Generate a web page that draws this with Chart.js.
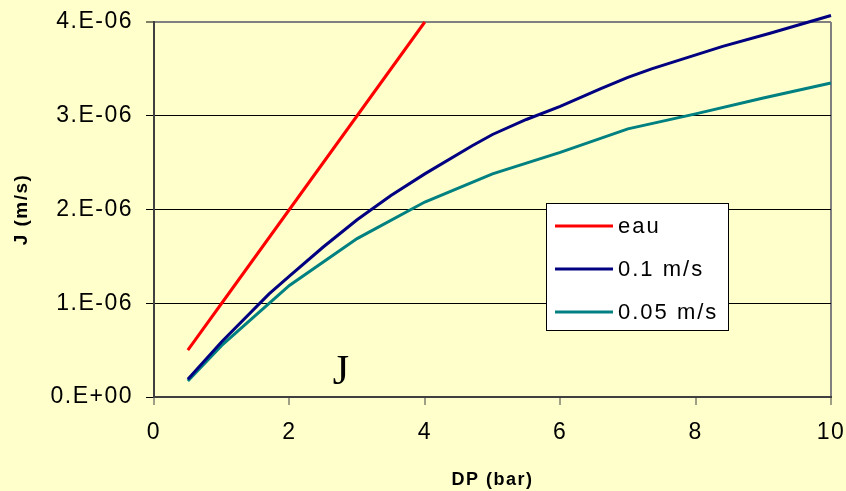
<!DOCTYPE html>
<html>
<head>
<meta charset="utf-8">
<script src="https://cdn.jsdelivr.net/npm/chart.js@4/dist/chart.umd.min.js"></script>
<style>
  html, body { margin: 0; padding: 0; background: #FFFFCC; }
  #wrap { width: 846px; height: 491px; position: relative; }
</style>
</head>
<body>
<div id="wrap"><canvas id="fluxChart"></canvas></div>
<script>
// DP (bar) vs J (m/s)
const seriesNames = ['eau', '0.1 m/s', '0.05 m/s'];
const seriesColors = ['#FF0000', '#000080', '#008080'];

const dpEau = [0.5, 1, 2, 3, 4];
const jEau = [0.5e-6, 1.0e-6, 2.0e-6, 3.0e-6, 4.0e-6];

const dpV01 = [0.5, 1, 1.7, 2, 2.5, 3, 3.5, 4, 4.7, 5, 5.5, 6, 6.6, 7, 7.35, 7.7, 8.4, 9.1, 10];
const jV01 = [0.19e-6, 0.59e-6, 1.1e-6, 1.29e-6, 1.6e-6, 1.89e-6, 2.15e-6, 2.38e-6, 2.68e-6, 2.8e-6,
              2.96e-6, 3.1e-6, 3.29e-6, 3.41e-6, 3.5e-6, 3.58e-6, 3.74e-6, 3.88e-6, 4.07e-6];

const dpV005 = [0.5, 1, 2, 3, 4, 5, 6, 7, 8, 9, 10];
const jV005 = [0.17e-6, 0.55e-6, 1.19e-6, 1.69e-6, 2.08e-6, 2.38e-6, 2.61e-6, 2.86e-6, 3.02e-6, 3.19e-6, 3.35e-6];

const xTicks = [0, 2, 4, 6, 8, 10];
const yTickLabels = ['0.E+00', '1.E-06', '2.E-06', '3.E-06', '4.E-06'];

const pts = (xs, ys) => xs.map((x, i) => ({x: x, y: ys[i]}));
const FONT = "'Liberation Sans', Arial, sans-serif";

// page background + letter spacing like the original
const bgPlugin = {
    id: 'bg',
    beforeDraw(chart) {
        const ctx = chart.ctx;
        ctx.save();
        ctx.fillStyle = '#FFFFCC';
        ctx.fillRect(0, 0, chart.width, chart.height);
        ctx.restore();
        ctx.letterSpacing = '1.5px';
    }
};

// legend box inside the plot + the "J" mark
const boxLegend = {
    id: 'boxLegend',
    afterDraw(chart) {
        const ctx = chart.ctx;
        ctx.save();
        ctx.letterSpacing = '2px';
        ctx.fillStyle = '#FFFFFF';
        ctx.strokeStyle = '#000000';
        ctx.lineWidth = 1;
        ctx.fillRect(546, 203, 182, 127);
        ctx.strokeRect(546.5, 203.5, 182, 127);
        ctx.font = '22px ' + FONT;
        ctx.textBaseline = 'middle';
        chart.data.datasets.forEach((ds, i) => {
            const y = 226 + i * 43;
            ctx.strokeStyle = ds.borderColor;
            ctx.lineWidth = 3;
            ctx.beginPath();
            ctx.moveTo(555, y);
            ctx.lineTo(613, y);
            ctx.stroke();
            ctx.fillStyle = '#000';
            ctx.fillText(ds.label, 618, y + 1);
        });
        ctx.font = "42px 'Liberation Serif', 'Times New Roman', serif";
        ctx.textAlign = 'center';
        ctx.textBaseline = 'alphabetic';
        ctx.letterSpacing = '0px';
        ctx.fillText('J', 341, 384);
        ctx.restore();
    }
};

const chart = new Chart(document.getElementById('fluxChart').getContext('2d'), {
    type: 'line',
    data: {
        datasets: seriesNames.map((name, i) => ({
            label: name,
            data: pts([dpEau, dpV01, dpV005][i], [jEau, jV01, jV005][i]),
            borderColor: seriesColors[i],
            backgroundColor: seriesColors[i],
            borderWidth: 3,
            pointRadius: 0,
            tension: 0,
            clip: false
        }))
    },
    options: {
        responsive: true,
        maintainAspectRatio: false,
        animation: false,
        layout: { padding: { left: 0, right: 15, top: 22, bottom: 0 } },
        plugins: { legend: { display: false }, tooltip: { enabled: false } },
        scales: {
            x: {
                type: 'linear',
                min: 0,
                max: 10,
                afterBuildTicks: s => { s.ticks = xTicks.map(v => ({value: v})); },
                afterFit: s => { s.height = 94; s.paddingLeft = 0; s.paddingRight = 0; },
                ticks: { font: { family: FONT, size: 23 }, color: '#000', padding: 14, maxRotation: 0 },
                grid: {
                    color: c => c.index === xTicks.length - 1 ? '#808080' : 'rgba(0,0,0,0)',
                    lineWidth: 2,
                    tickColor: '#404040',
                    tickWidth: 1,
                    tickLength: 8
                },
                border: { color: '#404040', width: 2 },
                title: {
                    display: true, text: 'DP (bar)', color: '#000',
                    font: { family: FONT, size: 18, weight: 'bold' },
                    padding: { top: 0, bottom: 0 }
                }
            },
            y: {
                type: 'linear',
                min: 0,
                max: 4e-6,
                afterBuildTicks: s => { s.ticks = yTickLabels.map((t, i) => ({value: i * 1e-6})); },
                afterFit: s => { s.width = 154; s.paddingTop = 0; s.paddingBottom = 0; },
                ticks: {
                    font: { family: FONT, size: 23 }, color: '#000', padding: 13,
                    callback: (v, i) => yTickLabels[i]
                },
                grid: {
                    color: c => c.index === yTickLabels.length - 1 ? '#808080' : '#000000',
                    lineWidth: c => c.index === yTickLabels.length - 1 ? 2 : 1,
                    tickColor: '#000',
                    tickWidth: 1,
                    tickLength: 8
                },
                border: { color: '#404040', width: 2 },
                title: {
                    display: true, text: 'J (m/s)', color: '#000',
                    font: { family: FONT, size: 19, weight: 'bold' },
                    padding: { top: 10, bottom: 0 }
                }
            }
        }
    },
    plugins: [bgPlugin, boxLegend]
});
</script>
</body>
</html>
